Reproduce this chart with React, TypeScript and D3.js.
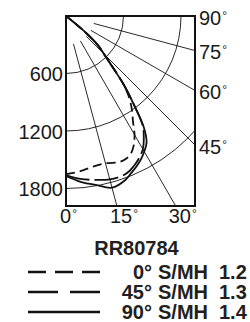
import React, { useRef, useEffect } from 'react';
import * as d3 from 'd3';

// candela values read at each angle (deg from nadir)
const angles = [0, 5, 10, 15, 20, 22.5, 25, 27.5, 30, 32.5, 35, 37.5, 40, 42.5, 45, 47.5, 50, 52.5, 55];
const cd0 = [1650, 1628, 1598, 1592, 1622, 1618, 1592, 1528, 1430, 1300, 1200, 1090, 940, 720, 560, 450, 255, 40, 0];
const cd45 = [1660, 1707, 1736, 1765, 1766, 1745, 1708, 1661, 1604, 1511, 1395, 1160, 940, 710, 560, 455, 262, 40, 0];
const cd90 = [1670, 1737, 1790, 1855, 1818, 1775, 1735, 1690, 1633, 1565, 1414, 1160, 940, 710, 560, 455, 262, 40, 0];

const radialTicks = [600, 1200, 1800];
const rayAngles = [15, 30, 45, 60, 75];
const sideAngles = [90, 75, 60, 45];
const bottomAngles = [0, 15, 30];

const legendTitle = 'RR80784';
const legendAngles = ['0°', '45°', '90°'];
const legendLamp = 'S/MH';
const legendValues = ['1.2', '1.3', '1.4'];

export default function App() {
  const ref = useRef<SVGSVGElement>(null);
  const width = 250;
  const height = 322;
  const x0 = 66, y0 = 16, x1 = 195, y1 = 206;
  const font = 'Liberation Sans, Arial, Helvetica, sans-serif';

  useEffect(() => {
    const svg = d3.select(ref.current);
    svg.selectAll('*').remove();

    const r = d3.scaleLinear().domain([0, 1800]).range([0, 172.5]);
    const rad = (a: number) => (a * Math.PI) / 180;

    svg.append('defs').append('clipPath').attr('id', 'frameClip')
      .append('rect')
      .attr('x', x0).attr('y', y0).attr('width', x1 - x0).attr('height', y1 - y0);

    const grid = svg.append('g').attr('clip-path', 'url(#frameClip)');

    // arcs
    grid.selectAll('circle')
      .data(radialTicks)
      .join('circle')
      .attr('cx', x0).attr('cy', y0)
      .attr('r', d => r(d))
      .attr('fill', 'none')
      .attr('stroke', '#111')
      .attr('stroke-width', 0.9);

    // rays
    grid.selectAll('line')
      .data(rayAngles)
      .join('line')
      .attr('x1', d => x0 + r(300) * Math.sin(rad(d)))
      .attr('y1', d => y0 + r(300) * Math.cos(rad(d)))
      .attr('x2', d => x0 + 400 * Math.sin(rad(d)))
      .attr('y2', d => y0 + 400 * Math.cos(rad(d)))
      .attr('stroke', '#111')
      .attr('stroke-width', 0.9);

    // curves
    const line = d3.lineRadial<number>()
      .angle((d, i) => Math.PI - rad(angles[i]))
      .radius(d => r(d))
      .curve(d3.curveCatmullRom);

    const series = [
      { values: cd0, dash: '9,5' },
      { values: cd45, dash: '24,5' },
      { values: cd90, dash: null },
    ];
    const curves = svg.append('g').attr('transform', `translate(${x0},${y0})`);
    series.forEach(s => {
      curves.append('path')
        .attr('d', line(s.values))
        .attr('fill', 'none')
        .attr('stroke', '#111')
        .attr('stroke-width', 1.8)
        .attr('stroke-dasharray', s.dash);
    });

    // frame
    svg.append('rect')
      .attr('x', x0).attr('y', y0).attr('width', x1 - x0).attr('height', y1 - y0)
      .attr('fill', 'none')
      .attr('stroke', '#111')
      .attr('stroke-width', 2);

    // left labels
    svg.append('g').selectAll('text')
      .data(radialTicks)
      .join('text')
      .attr('x', 63)
      .attr('y', d => y0 + r(d) + 7.5)
      .attr('text-anchor', 'end')
      .style('font-family', font)
      .style('font-size', '20px')
      .attr('fill', '#1a1a1a')
      .text(d => d);

    // right labels
    const side = svg.append('g').selectAll('text')
      .data(sideAngles)
      .join('text')
      .attr('x', 199)
      .attr('y', d => (d === 90 ? y0 : y0 + (x1 - x0) / Math.tan(rad(d))) + 8.5)
      .style('font-family', font)
      .style('font-size', '20px')
      .attr('fill', '#1a1a1a');
    side.append('tspan').text(d => d);
    side.append('tspan').attr('dy', -5).attr('dx', 1).style('font-size', '12px').text('°');

    // bottom labels
    const bottom = svg.append('g').selectAll('text')
      .data(bottomAngles)
      .join('text')
      .attr('x', d => x0 + (y1 - y0) * Math.tan(rad(d)) + (d === 0 ? 2.5 : 7))
      .attr('y', 223)
      .attr('text-anchor', 'middle')
      .style('font-family', font)
      .style('font-size', '20px')
      .attr('fill', '#1a1a1a');
    bottom.append('tspan').text(d => d);
    bottom.append('tspan').attr('dy', -5).attr('dx', 1).style('font-size', '12px').text('°');

    // legend
    svg.append('text')
      .attr('x', 136.5).attr('y', 255)
      .attr('text-anchor', 'middle')
      .style('font-family', font)
      .style('font-size', '20px')
      .style('font-weight', 'bold')
      .attr('fill', '#231f20')
      .text(legendTitle);

    const rows = svg.append('g').selectAll('g')
      .data(legendAngles)
      .join('g')
      .attr('transform', (d, i) => `translate(0,${272 + i * 20})`);

    rows.append('line')
      .attr('x1', 28).attr('x2', 100)
      .attr('stroke', '#111')
      .attr('stroke-width', 2.4)
      .attr('stroke-dasharray', (d, i) => series[i].dash === '9,5' ? '18,9' : series[i].dash ? '30,12' : null);

    const legendText = (sel: any) => sel
      .style('font-family', font)
      .style('font-size', '20px')
      .style('font-weight', 'bold')
      .attr('fill', '#231f20')
      .attr('y', 7);

    rows.append('text').call(legendText)
      .attr('x', 152).attr('text-anchor', 'end')
      .text((d: string) => d);
    rows.append('text').call(legendText)
      .attr('x', 158)
      .text(legendLamp);
    rows.append('text').call(legendText)
      .attr('x', 219)
      .text((d: string, i: number) => legendValues[i]);
  }, []);

  return (
    <svg ref={ref} width={width} height={height}
      style={{ position: 'absolute', top: 0, left: 0, background: '#fff' }} />
  );
}
